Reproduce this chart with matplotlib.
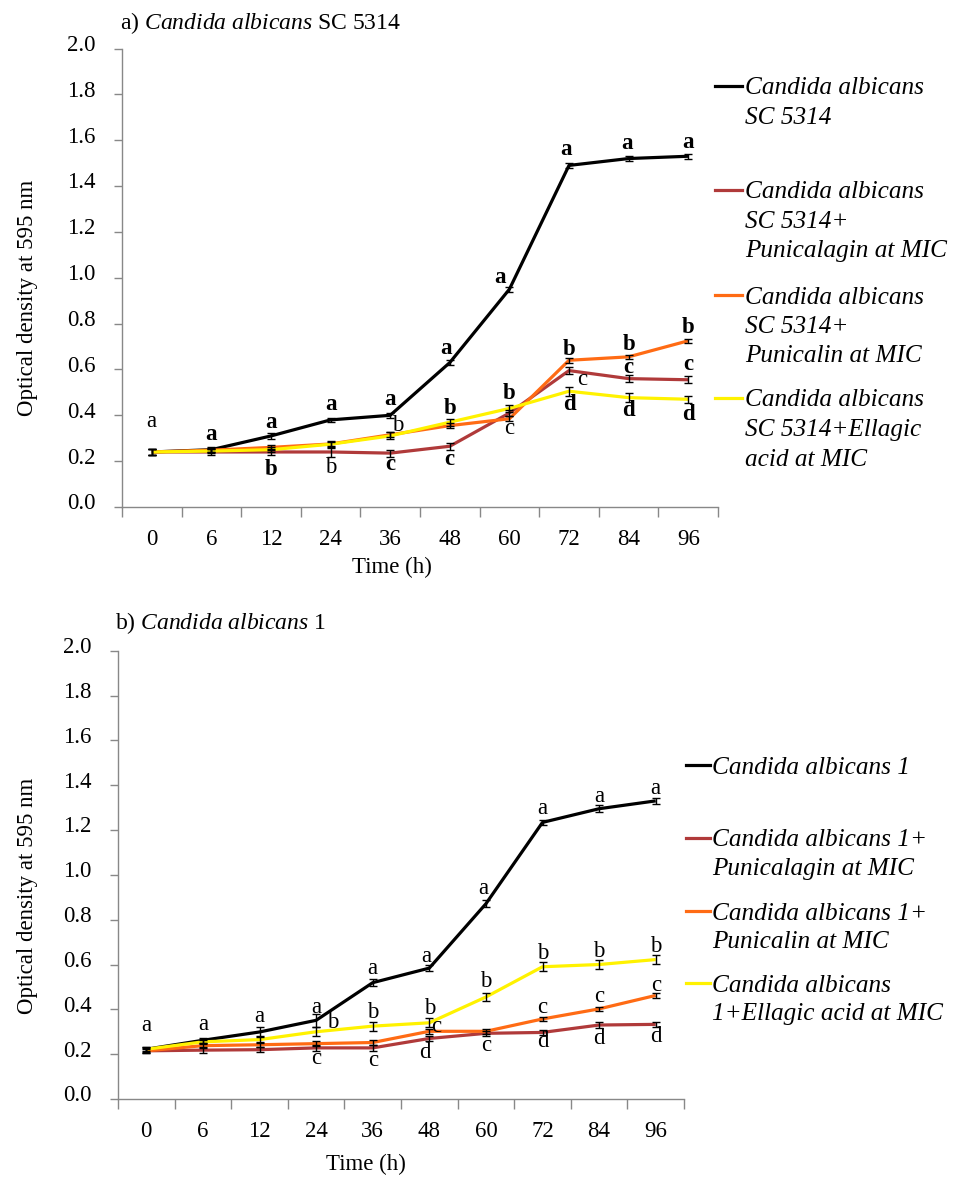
import matplotlib
matplotlib.use("Agg")
import matplotlib.pyplot as plt
from matplotlib.lines import Line2D
from matplotlib.transforms import ScaledTranslation

plt.rcParams['font.family'] = ['Liberation Serif', 'DejaVu Serif']
plt.rcParams['mathtext.fontset'] = 'custom'
plt.rcParams['mathtext.rm'] = 'Liberation Serif'
plt.rcParams['mathtext.it'] = 'Liberation Serif:italic'

# ---------------- data ----------------
time_labels = ['0', '6', '12', '24', '36', '48', '60', '72', '84', '96']
y_ticks = [0.0, 0.2, 0.4, 0.6, 0.8, 1.0, 1.2, 1.4, 1.6, 1.8, 2.0]

# panel a) Candida albicans SC 5314
a_control = [0.24, 0.25, 0.31, 0.38, 0.40, 0.63, 0.95, 1.49, 1.52, 1.53]
a_punicalagin = [0.24, 0.24, 0.24, 0.24, 0.235, 0.265, 0.41, 0.595, 0.56, 0.555]
a_punicalin = [0.24, 0.248, 0.26, 0.275, 0.315, 0.355, 0.385, 0.64, 0.655, 0.725]
a_ellagic = [0.24, 0.244, 0.25, 0.274, 0.31, 0.37, 0.43, 0.505, 0.477, 0.47]
a_err_control = [0.015, 0.012, 0.013, 0.01, 0.01, 0.01, 0.01, 0.01, 0.01, 0.01]
a_err_punicalagin = [0.015, 0.013, 0.015, 0.02, 0.015, 0.015, 0.015, 0.015, 0.015, 0.015]
a_err_punicalin = [0.012, 0.01, 0.01, 0.01, 0.01, 0.01, 0.012, 0.012, 0.01, 0.01]
a_err_ellagic = [0.012, 0.01, 0.01, 0.015, 0.015, 0.015, 0.015, 0.02, 0.02, 0.015]

# panel b) Candida albicans 1
b_control = [0.222, 0.262, 0.299, 0.351, 0.519, 0.584, 0.871, 1.234, 1.295, 1.33]
b_punicalagin = [0.215, 0.218, 0.22, 0.228, 0.228, 0.27, 0.293, 0.297, 0.33, 0.333]
b_punicalin = [0.215, 0.238, 0.242, 0.247, 0.252, 0.302, 0.302, 0.357, 0.402, 0.462]
b_ellagic = [0.222, 0.255, 0.265, 0.3, 0.325, 0.34, 0.455, 0.59, 0.6, 0.622]
b_err_control = [0.012, 0.012, 0.02, 0.03, 0.015, 0.015, 0.015, 0.012, 0.015, 0.015]
b_err_punicalagin = [0.012, 0.012, 0.012, 0.012, 0.012, 0.012, 0.012, 0.012, 0.012, 0.01]
b_err_punicalin = [0.01, 0.01, 0.01, 0.01, 0.01, 0.012, 0.01, 0.01, 0.01, 0.01]
b_err_ellagic = [0.01, 0.01, 0.012, 0.02, 0.02, 0.02, 0.02, 0.02, 0.02, 0.02]

# significance letters: (category index, y, letter, bold)
a_letters = [
    (0, 0.375, 'a', False), (1, 0.318, 'a', True), (2, 0.369, 'a', True), (2, 0.163, 'b', True),
    (3, 0.445, 'a', True), (3, 0.172, 'b', False), (4, 0.47, 'a', True), (4.13, 0.355, 'b', False),
    (4, 0.185, 'c', True), (5, 0.43, 'b', True), (4.94, 0.69, 'a', True), (5, 0.207, 'c', True),
    (5.85, 1.003, 'a', True), (6, 0.496, 'b', True), (5.99, 0.343, 'c', False),
    (6.95, 1.56, 'a', True), (7, 0.686, 'b', True), (7.22, 0.558, 'c', False), (7, 0.448, 'd', True),
    (7.98, 1.584, 'a', True), (8, 0.711, 'b', True), (8, 0.609, 'c', True), (8, 0.419, 'd', True),
    (9, 1.59, 'a', True), (9, 0.781, 'b', True), (9, 0.62, 'c', True), (9, 0.404, 'd', True),
]
b_letters = [
    (0, 0.326, 'a'), (1, 0.333, 'a'), (2, 0.366, 'a'), (3, 0.41, 'a'), (3.29, 0.341, 'b'),
    (3, 0.181, 'c'), (4, 0.58, 'a'), (4, 0.385, 'b'), (4, 0.173, 'c'), (4.94, 0.634, 'a'),
    (5, 0.403, 'b'), (5.12, 0.325, 'c'), (4.92, 0.207, 'd'), (5.95, 0.938, 'a'), (6, 0.523, 'b'),
    (6, 0.24, 'c'), (7, 1.298, 'a'), (7, 0.647, 'b'), (7, 0.407, 'c'), (7, 0.255, 'd'),
    (8, 1.351, 'a'), (8, 0.659, 'b'), (8, 0.456, 'c'), (8, 0.271, 'd'),
    (9, 1.385, 'a'), (9, 0.681, 'b'), (9, 0.507, 'c'), (9, 0.277, 'd'),
]

a_legend = ['Candida albicans\nSC 5314',
            'Candida albicans\nSC 5314+\nPunicalagin at MIC',
            'Candida albicans\nSC 5314+\nPunicalin at MIC',
            'Candida albicans\nSC 5314+Ellagic\nacid at MIC']
b_legend = ['Candida albicans 1',
            'Candida albicans 1+\nPunicalagin at MIC',
            'Candida albicans 1+\nPunicalin at MIC',
            'Candida albicans\n1+Ellagic acid at MIC']

colors = ['#000000', '#B03A3A', '#FF6B14', '#FFF200']

W, H = 960, 1179
fig = plt.figure(figsize=(W / 100, H / 100), dpi=100)


def fx(x):
    return x / W


def fy(y):
    return 1 - y / H


FS = 16.5
GREY = '#888888'


def make_axes(left, right, top, bottom, series, errs, letters, bold_letters):
    ax = fig.add_axes([fx(left), fy(bottom), fx(right) - fx(left), (bottom - top) / H])
    x = list(range(len(time_labels)))
    for vals, err, c in zip(series, errs, colors):
        ax.plot(x, vals, color=c, lw=2.3, solid_capstyle='butt', zorder=2)
    for vals, err in zip(series, errs):
        ax.errorbar(x, vals, yerr=err, fmt='none', ecolor='black', elinewidth=1,
                    capsize=2.8, capthick=1, zorder=3)
    for item in letters:
        if bold_letters:
            xi, yv, s, b = item
        else:
            xi, yv, s = item
            b = False
        ax.text(xi, yv, s, ha='center', va='center', fontsize=FS,
                fontweight='bold' if b else 'normal', zorder=4)
    ax.set_xlim(-0.5, len(time_labels) - 0.5)
    ax.set_ylim(0, 2.0)
    ax.set_xticks(x)
    ax.set_xticklabels(time_labels, fontsize=FS)
    ax.set_xticks([i - 0.5 for i in range(len(time_labels) + 1)], minor=True)
    ax.tick_params(axis='x', which='major', length=0, pad=16)
    ax.tick_params(axis='x', which='minor', length=7, width=1, color=GREY, direction='out')
    ax.set_yticks(y_ticks)
    ax.set_yticklabels([f'{v:.1f}' for v in y_ticks], fontsize=FS)
    ax.tick_params(axis='y', length=6, width=1, color=GREY, pad=13, direction='out')
    for lab in ax.get_yticklabels():
        lab.set_transform(lab.get_transform() + ScaledTranslation(0, 4 / 72, fig.dpi_scale_trans))
    for sp in ['top', 'right']:
        ax.spines[sp].set_visible(False)
    for sp in ['left', 'bottom']:
        ax.spines[sp].set_color(GREY)
        ax.spines[sp].set_linewidth(1)
    ax.patch.set_alpha(0)
    return ax


make_axes(122, 718, 48.5, 507,
          [a_control, a_punicalagin, a_punicalin, a_ellagic],
          [a_err_control, a_err_punicalagin, a_err_punicalin, a_err_ellagic],
          a_letters, True)
make_axes(118, 684, 650.7, 1099,
          [b_control, b_punicalagin, b_punicalin, b_ellagic],
          [b_err_control, b_err_punicalagin, b_err_punicalin, b_err_ellagic],
          b_letters, False)

# titles
fig.text(fx(120), fy(23), r'a) $\mathit{Candida\ albicans}$ SC 5314', fontsize=17,
         ha='left', va='center')
fig.text(fx(115), fy(623), r'b) $\mathit{Candida\ albicans}$ 1', fontsize=17,
         ha='left', va='center')

# axis labels
for yc in (298, 896):
    fig.text(fx(28), fy(yc), 'Optical density at 595 nm', rotation=90, fontsize=FS,
             ha='center', va='center')
fig.text(fx(392), fy(567), 'Time (h)', fontsize=FS, ha='center', va='center')
fig.text(fx(366), fy(1164), 'Time (h)', fontsize=FS, ha='center', va='center')


def legend(labels, x0, x1, xt, ys, spacing):
    for lab, y0, c in zip(labels, ys, colors):
        fig.add_artist(Line2D([fx(x0), fx(x1)], [fy(y0), fy(y0)], color=c, lw=2.3,
                              transform=fig.transFigure))
        for k, line in enumerate(lab.split('\n')):
            fig.text(fx(xt), fy(y0 + k * spacing), line, fontsize=18.2, style='italic',
                     ha='left', va='center_baseline')


legend(a_legend, 715, 742, 745, [86, 190, 295, 398], 29.5)
legend(b_legend, 686, 710, 712, [765, 838, 911, 983], 28.8)

fig.savefig('out.png', dpi=100)
